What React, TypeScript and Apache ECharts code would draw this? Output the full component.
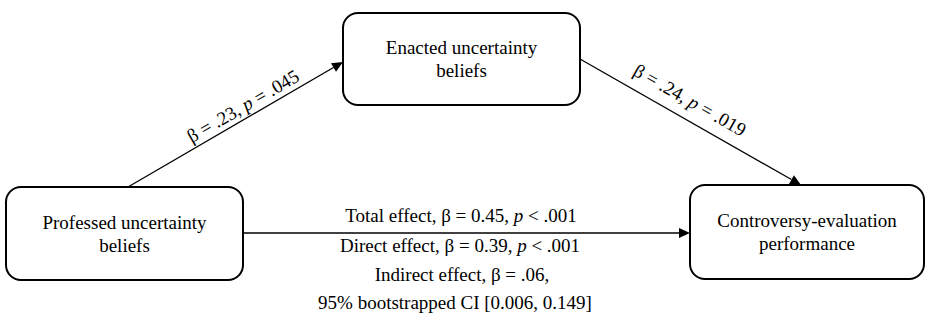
import React, { useEffect, useRef } from "react";
import * as echarts from "echarts";

// ---- data ----
const nodeLabels = [
  ["Professed uncertainty", "beliefs"],
  ["Enacted uncertainty", "beliefs"],
  ["Controversy-evaluation", "performance"],
];
const pathBetas = [".23", ".24"];
const pathPs = [".045", ".019"];
const totalEffect = { beta: "0.45", p: ".001" };
const directEffect = { beta: "0.39", p: ".001" };
const indirectBeta = ".06";
const bootCI = ["0.006", "0.149"];

const FONT = "'Liberation Serif', 'Times New Roman', serif";
const FS = 19;

const rich = {
  i: { fontStyle: "italic", fontFamily: FONT, fontSize: FS, fill: "#000" },
  n: { fontFamily: FONT, fontSize: FS, fill: "#000" },
};

function arrow(x1: number, y1: number, x2: number, y2: number, len = 11, half = 5) {
  const dx = x2 - x1;
  const dy = y2 - y1;
  const d = Math.sqrt(dx * dx + dy * dy);
  const ux = dx / d;
  const uy = dy / d;
  const bx = x2 - ux * len;
  const by = y2 - uy * len;
  const px = -uy;
  const py = ux;
  return [
    {
      type: "line",
      shape: { x1, y1, x2: bx, y2: by },
      style: { stroke: "#000", lineWidth: 1.3 },
      silent: true,
    },
    {
      type: "polygon",
      shape: {
        points: [
          [x2, y2],
          [bx + px * half, by + py * half],
          [bx - px * half, by - py * half],
        ],
      },
      style: { fill: "#000" },
      silent: true,
    },
  ];
}

function label(x: number, y: number, text: string, rotation = 0) {
  return {
    type: "text",
    x,
    y,
    rotation,
    z: 10,
    style: {
      text,
      fill: "#000",
      font: `${FS}px ${FONT}`,
      fontFamily: FONT,
      fontSize: FS,
      align: "center",
      verticalAlign: "middle",
      rich,
    },
    silent: true,
  };
}

function boxRect(x: number, y: number, w: number, h: number) {
  return {
    type: "rect",
    shape: { x, y, width: w, height: h, r: 15 },
    style: { fill: "#fff", stroke: "#000", lineWidth: 2 },
    silent: true,
  };
}

function boxText(x: number, y: number, w: number, h: number, lines: string[]) {
  const lh = 23;
  const cy = y + h / 2 - ((lines.length - 1) * lh) / 2;
  return lines.map((l, i) => label(x + w / 2, cy + i * lh, `{n|${l}}`));
}

export default function App() {
  const ref = useRef<HTMLDivElement>(null);
  useEffect(() => {
    if (!ref.current) return;
    const chart = echarts.init(ref.current, null, { renderer: "svg" });
    const a1 = Math.atan2(187 - 62, 343 - 128);
    const a2 = Math.atan2(185 - 59, 801 - 580);
    const boxes: [number, number, number, number][] = [
      [6, 187, 237, 93],
      [343, 13, 237, 92],
      [690, 185, 234, 94],
    ];
    const graphic: any[] = [
      ...arrow(128, 187, 343, 62),
      ...arrow(580, 59, 801, 185),
      ...arrow(243, 233, 690, 233),
      ...boxes.map((b) => boxRect(...b)),
      label(243, 106, `{n|β = ${pathBetas[0]}, }{i|p}{n| = ${pathPs[0]}}`, a1),
      label(690, 100, `{n|β = ${pathBetas[1]}, }{i|p}{n| = ${pathPs[1]}}`, -a2),
      label(461, 215, `{n|Total effect, β = ${totalEffect.beta}, }{i|p}{n| < ${totalEffect.p}}`),
      label(460, 245, `{n|Direct effect, β = ${directEffect.beta}, }{i|p}{n| < ${directEffect.p}}`),
      label(462, 274, `{n|Indirect effect, β = ${indirectBeta},}`),
      label(455, 302, `{n|95% bootstrapped CI [${bootCI[0]}, ${bootCI[1]}]}`),
      ...boxes.flatMap((b, i) => boxText(...b, nodeLabels[i])),
    ];
    chart.setOption({
      animation: false,
      backgroundColor: "#fff",
      graphic,
    });
    return () => chart.dispose();
  }, []);
  return (
    <div
      ref={ref}
      style={{ position: "fixed", left: 0, top: 0, width: 925, height: 317 }}
    />
  );
}
